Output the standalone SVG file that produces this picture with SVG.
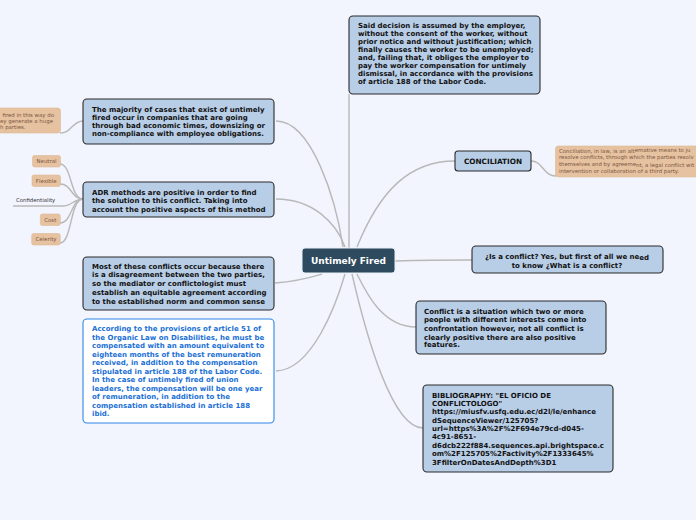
<svg xmlns="http://www.w3.org/2000/svg" width="696" height="520" viewBox="0 0 696 520">
<style>
.bg{fill:#f2f5fe}
.node rect{fill:#b8cde6;stroke:#2b2b2b;stroke-width:1.1}
.t{font-family:"DejaVu Sans",Verdana,sans-serif;font-weight:bold;font-size:7px;fill:#111}
.blue rect{fill:#ffffff;stroke:#2f86e6;stroke-width:1.1}
.blue .t{fill:#1a70d6}
.central rect{fill:#2e4a5e;stroke:#e8eef5;stroke-width:1}
.central text{font-family:"DejaVu Sans",Verdana,sans-serif;font-weight:bold;font-size:9px;fill:#ffffff}
.tag rect{fill:#e6c2a1;stroke:#dcb896;stroke-width:0.6}
.s{font-family:"DejaVu Sans",Verdana,sans-serif;font-size:5.4px;fill:#7a5640}
.conf{font-family:"DejaVu Sans",Verdana,sans-serif;font-size:5.4px;fill:#333}
.c path{fill:none;stroke:#b8b8b8;stroke-width:1.4}
</style>
<rect class="bg" x="0" y="0" width="696" height="520"/>
<g class="c" id="connectors">
<path d="M349,94 L349,248"/>
<path d="M276,121 C312,121 336,200 343,247"/>
<path d="M276,199 C312,199 336,222 345,247"/>
<path d="M275,283 C300,281 312,277 322,274"/>
<path d="M276,371 C312,370 336,305 345,274"/>
<path d="M357,247 C380,190 410,161 455,161"/>
<path d="M395,261 C430,260 450,260 472,260"/>
<path d="M416,327 C382,327 366,292 357,274"/>
<path d="M423,428 C392,428 366,335 352,274"/>
<path d="M83,121 C72,121 72,133 60,133"/>
<path d="M83,199 C70,199 72,164 60,164"/>
<path d="M83,199 C71,199 72,184 60,184"/>
<path d="M83,199 C74,199 72,206 63,206 L13,206"/>
<path d="M83,199 C71,199 72,223 60,223"/>
<path d="M83,199 C70,199 72,243 60,243"/>
<path d="M531,161 C543,161 543,176 556,176"/>
</g>
<g id="central" class="central">
<rect x="302" y="248" width="93" height="25" rx="3"/>
<text x="348.5" y="264" text-anchor="middle">Untimely Fired</text>
</g>
<g id="n-decision" class="node">
<rect x="349" y="16" width="191" height="78" rx="4"/>
<text class="t" x="358" y="28">Said decision is assumed by the employer,</text>
<text class="t" x="358" y="36">without the consent of the worker, without</text>
<text class="t" x="358" y="44">prior notice and without justification; which</text>
<text class="t" x="358" y="52">finally causes the worker to be unemployed;</text>
<text class="t" x="358" y="60">and, failing that, it obliges the employer to</text>
<text class="t" x="358" y="68">pay the worker compensation for untimely</text>
<text class="t" x="358" y="76">dismissal, in accordance with the provisions</text>
<text class="t" x="358" y="84">of article 188 of the Labor Code.</text>
</g>
<g id="n-majority" class="node">
<rect x="83" y="99" width="191" height="45" rx="4"/>
<text class="t" x="92" y="111.5">The majority of cases that exist of untimely</text>
<text class="t" x="92" y="119.5">fired occur in companies that are going</text>
<text class="t" x="92" y="127.5">through bad economic times, downsizing or</text>
<text class="t" x="92" y="135.5">non-compliance with employee obligations.</text>
</g>
<g id="n-adr" class="node">
<rect x="83" y="182" width="191" height="35" rx="4"/>
<text class="t" x="92" y="195">ADR methods are positive in order to find</text>
<text class="t" x="92" y="203.3">the solution to this conflict. Taking into</text>
<text class="t" x="92" y="211.5">account the positive aspects of this method</text>
</g>
<g id="n-most" class="node">
<rect x="83" y="257" width="191" height="53" rx="4"/>
<text class="t" x="92" y="268.5">Most of these conflicts occur because there</text>
<text class="t" x="92" y="277.2">is a disagreement between the two parties,</text>
<text class="t" x="92" y="286">so the mediator or conflictologist must</text>
<text class="t" x="92" y="294.7">establish an equitable agreement according</text>
<text class="t" x="92" y="303.5">to the established norm and common sense</text>
</g>
<g id="n-according" class="blue">
<rect x="83" y="319" width="191" height="104" rx="4"/>
<text class="t" x="92" y="331.2">According to the provisions of article 51 of</text>
<text class="t" x="92" y="339.7">the Organic Law on Disabilities, he must be</text>
<text class="t" x="92" y="348.2">compensated with an amount equivalent to</text>
<text class="t" x="92" y="356.7">eighteen months of the best remuneration</text>
<text class="t" x="92" y="365.2">received, in addition to the compensation</text>
<text class="t" x="92" y="373.7">stipulated in article 188 of the Labor Code.</text>
<text class="t" x="92" y="382.2">In the case of untimely fired of union</text>
<text class="t" x="92" y="390.7">leaders, the compensation will be one year</text>
<text class="t" x="92" y="399.2">of remuneration, in addition to the</text>
<text class="t" x="92" y="407.7">compensation established in article 188</text>
<text class="t" x="92" y="416.2">ibid.</text>
</g>
<g id="n-conciliation" class="node">
<rect x="455" y="151" width="76" height="20" rx="3"/>
<text class="t" x="493" y="164" text-anchor="middle" style="font-size:7.3px">CONCILIATION</text>
</g>
<g id="n-isconflict" class="node">
<rect x="472" y="246" width="191" height="27" rx="4"/>
<text class="t" x="567" y="258.5" text-anchor="middle">¿Is a conflict? Yes, but first of all we ne<tspan dy="1.5">ed</tspan></text>
<text class="t" x="567" y="267.5" text-anchor="middle">to know ¿What is a conflict?</text>
</g>
<g id="n-conflictis" class="node">
<rect x="416" y="301" width="190" height="53" rx="4"/>
<text class="t" x="424" y="313.5">Conflict is a situation which two or more</text>
<text class="t" x="424" y="322.2">people with different interests come into</text>
<text class="t" x="424" y="330.8">confrontation however, not all conflict is</text>
<text class="t" x="424" y="339.5">clearly positive there are also positive</text>
<text class="t" x="424" y="347.2">features.</text>
</g>
<g id="n-biblio" class="node">
<rect x="423" y="385" width="190" height="87" rx="4"/>
<text class="t" x="432" y="397.5">BIBLIOGRAPHY: "EL OFICIO DE</text>
<text class="t" x="432" y="405.8">CONFLICTOLOGO"</text>
<text class="t" x="432" y="414.2">https://miusfv.usfq.edu.ec/d2l/le/enhance</text>
<text class="t" x="432" y="422.5">dSequenceViewer/125705?</text>
<text class="t" x="432" y="430.8">url=https%3A%2F%2F694e79cd-d045-</text>
<text class="t" x="432" y="439.2">4c91-8651-</text>
<text class="t" x="432" y="447.5">d6dcb222f884.sequences.api.brightspace.c</text>
<text class="t" x="432" y="456.2">om%2F125705%2Factivity%2F1333645%</text>
<text class="t" x="432" y="464.5">3FfilterOnDatesAndDepth%3D1</text>
</g>
<g id="n-fired-note" class="tag">
<rect x="-10" y="108" width="70.5" height="25" rx="3"/>
<text class="s" x="2.5" y="116.5">fired in this way do</text>
<text class="s" x="0" y="122.5">ey generate a huge</text>
<text class="s" x="0" y="128.5">h parties.</text>
</g>
<g id="n-neutral" class="tag">
<rect x="32.5" y="155.5" width="28" height="11.5" rx="2"/>
<text class="s" x="46.5" y="163.2" text-anchor="middle">Neutral</text>
</g>
<g id="n-flexible" class="tag">
<rect x="32" y="175" width="28.5" height="11.5" rx="2"/>
<text class="s" x="46.2" y="182.7" text-anchor="middle">Flexible</text>
</g>
<g id="n-confidentiality">
<text class="conf" x="16" y="202.3">Confidentiality</text>
</g>
<g id="n-cost" class="tag">
<rect x="40.3" y="214" width="20" height="11.5" rx="2"/>
<text class="s" x="50.3" y="221.7" text-anchor="middle">Cost</text>
</g>
<g id="n-celerity" class="tag">
<rect x="31.7" y="233.5" width="28.6" height="11.5" rx="2"/>
<text class="s" x="46" y="241.2" text-anchor="middle">Celerity</text>
</g>
<g id="n-conciliation-note" class="tag">
<rect x="555.5" y="146" width="150" height="31" rx="3"/>
<text class="s" x="559" y="152.5">Conciliation, in law, is an alt<tspan dy="-0.8">ernative means to ju</tspan></text>
<text class="s" x="559" y="159.2">resolve conflicts, through which the parties resolv</text>
<text class="s" x="559" y="166.2">themselves and by agreeme<tspan dy="0.8">nt, a legal conflict wit</tspan></text>
<text class="s" x="559" y="173">intervention or collaboration of a third party.</text>
</g>
</svg>
